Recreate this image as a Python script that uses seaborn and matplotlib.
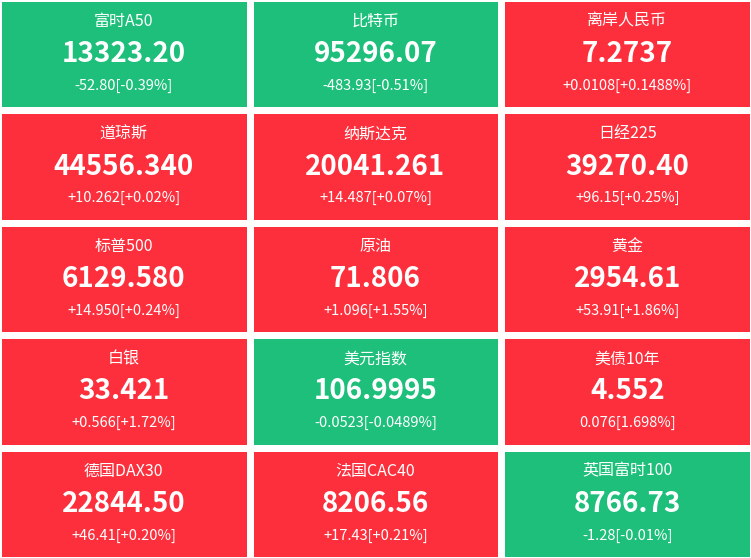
import numpy as np
import seaborn as sns
import matplotlib.pyplot as plt
from matplotlib.colors import ListedColormap

names = ['富时A50', '比特币', '离岸人民币',
         '道琼斯', '纳斯达克', '日经225',
         '标普500', '原油', '黄金',
         '白银', '美元指数', '美债10年',
         '德国DAX30', '法国CAC40', '英国富时100']
values = ['13323.20', '95296.07', '7.2737',
          '44556.340', '20041.261', '39270.40',
          '6129.580', '71.806', '2954.61',
          '33.421', '106.9995', '4.552',
          '22844.50', '8206.56', '8766.73']
changes = ['-52.80[-0.39%]', '-483.93[-0.51%]', '+0.0108[+0.1488%]',
           '+10.262[+0.02%]', '+14.487[+0.07%]', '+96.15[+0.25%]',
           '+14.950[+0.24%]', '+1.096[+1.55%]', '+53.91[+1.86%]',
           '+0.566[+1.72%]', '-0.0523[-0.0489%]', '0.076[1.698%]',
           '+46.41[+0.20%]', '+17.43[+0.21%]', '-1.28[-0.01%]']

up = np.array([0 if c.startswith('-') else 1 for c in changes]).reshape(5, 3)

sns.set_theme(style='white')
plt.rcParams['font.family'] = ['Noto Sans CJK SC', 'DejaVu Sans']

fig = plt.figure(figsize=(7.51, 5.58), dpi=100)
ax = fig.add_axes([-0.003, -0.004, 1.006, 1.008])
sns.heatmap(up, cmap=ListedColormap(['#1dbf7b', '#fd2f3d']), vmin=0, vmax=1,
            cbar=False, linewidths=5, linecolor='white', ax=ax,
            xticklabels=False, yticklabels=False)

for k in range(15):
    r, c = divmod(k, 3)
    x = c + 0.5
    ax.text(x, r + 0.21, names[k], ha='center', va='center', color='white', fontsize=11.5)
    ax.text(x, r + 0.5, values[k], ha='center', va='center', color='white',
            fontsize=20, fontweight='bold')
    ax.text(x, r + 0.78, changes[k], ha='center', va='center', color='white', fontsize=10.5)

fig.savefig('out.png', dpi=100)
